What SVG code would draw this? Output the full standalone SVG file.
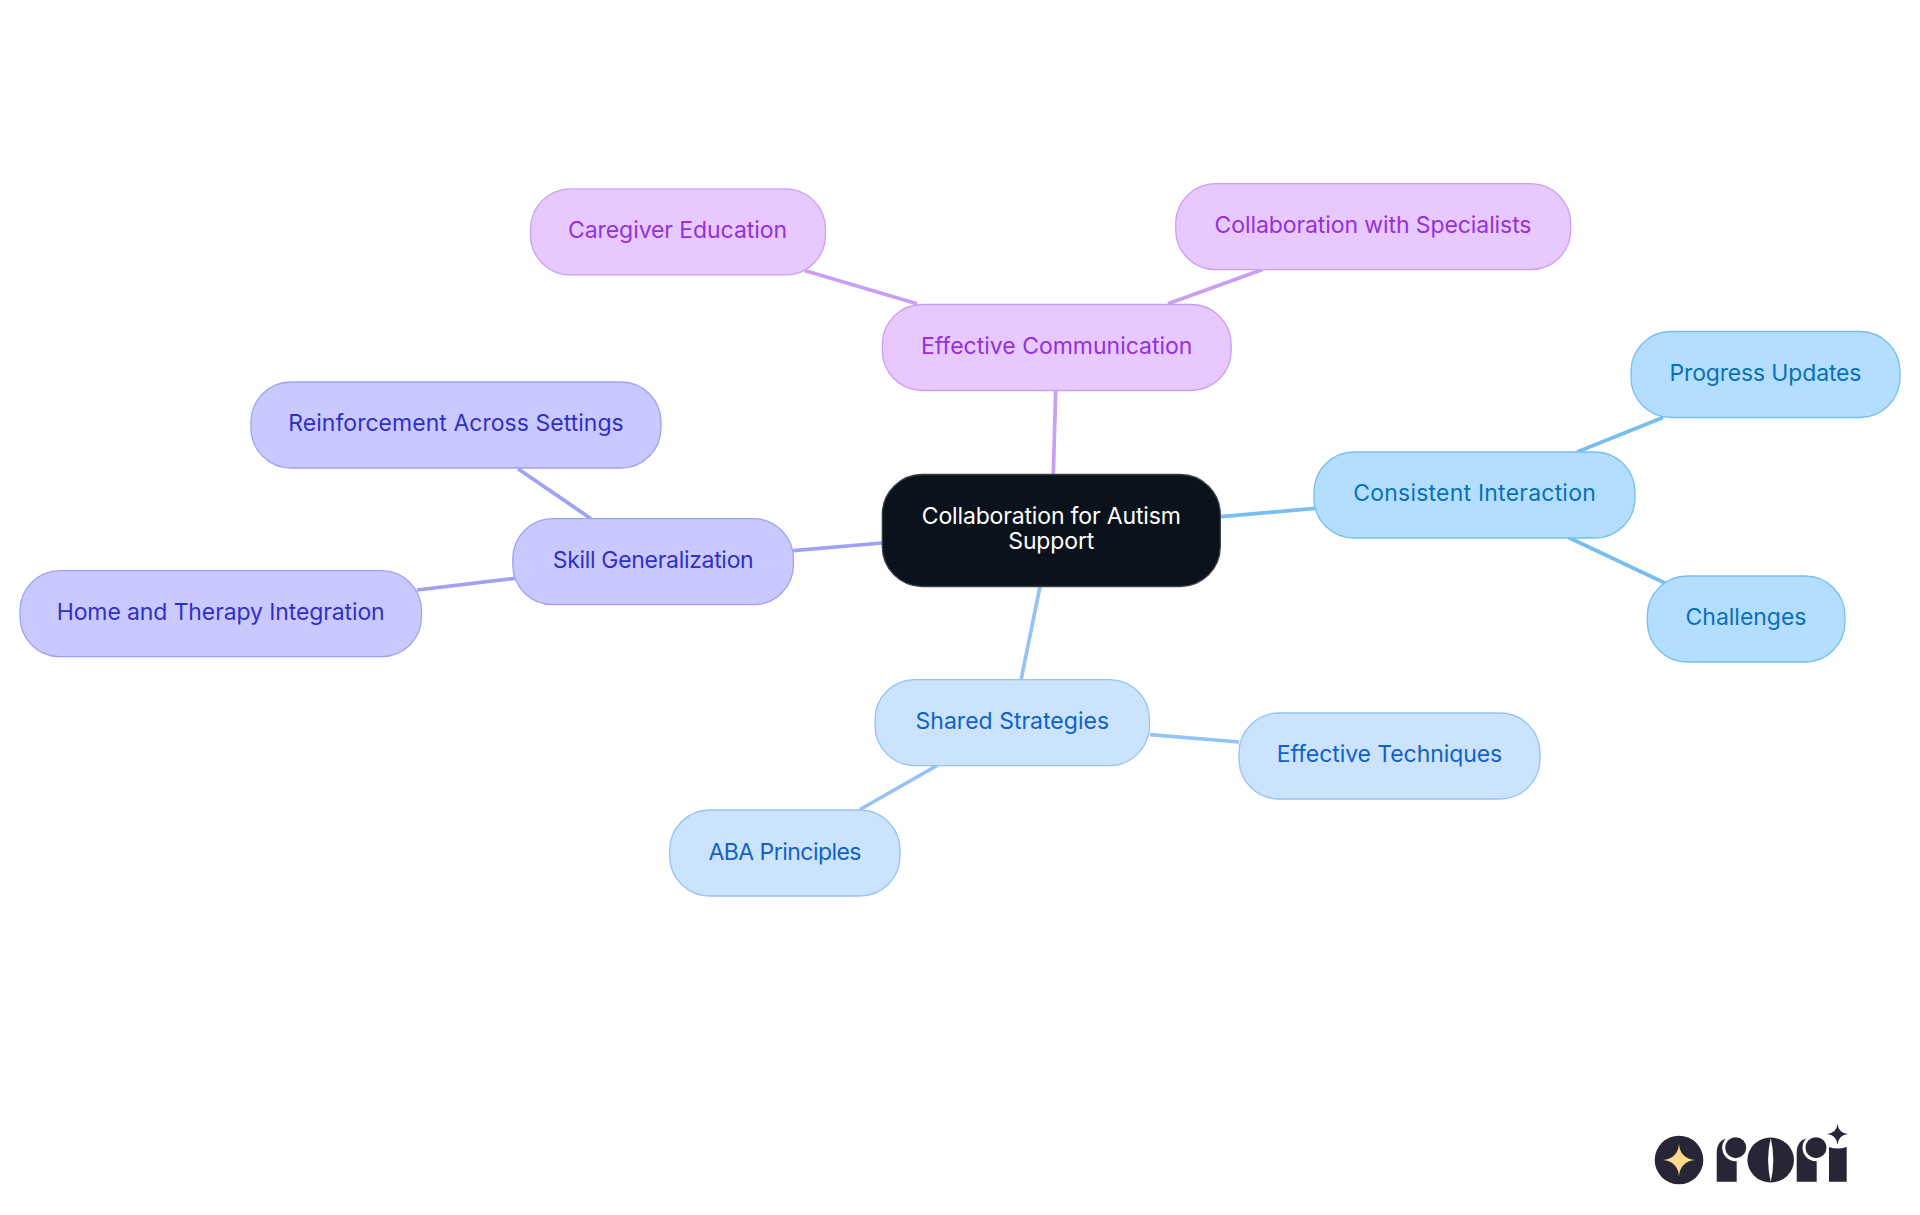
<svg xmlns="http://www.w3.org/2000/svg" width="1920" height="1215" viewBox="0 0 1920 1215">
<style>
text{font-family:Inter,"Liberation Sans",sans-serif;font-size:23px;font-weight:400;text-anchor:middle}
.n{stroke-width:1.3}
.l{fill:none;stroke-width:3.7}
.a{fill:#e7c9ff;stroke:#cb9ef5}.at{fill:#9530dc}.al{stroke:#cb9ef5}
.b{fill:#b3deff;stroke:#78bef0}.bt{fill:#0a70b8}.bl{stroke:#78bef0}
.c{fill:#cce3fd;stroke:#96c3f5}.ct{fill:#0f62c8}.cl{stroke:#96c3f5}
.d{fill:#c9c9ff;stroke:#a0a0f5}.dt{fill:#3030c8}.dl{stroke:#a0a0f5}
.k{fill:#262636}
</style>
<rect width="1920" height="1215" fill="#ffffff"/>
<g id="connectors">
<path class="l al" d="M1055.7 390.7L1053.3 474"/>
<path class="l al" d="M804.5 270.6L917 303.7"/>
<path class="l al" d="M1262.5 269.4L1168 303.7"/>
<path class="l bl" d="M1221 516.7L1315 508.3"/>
<path class="l bl" d="M1663 417.5L1577 452"/>
<path class="l bl" d="M1568.6 537.5L1667 584"/>
<path class="l cl" d="M1040 586.7L1021 680"/>
<path class="l cl" d="M1150 734.7L1239 742"/>
<path class="l cl" d="M938 765L860 809.5"/>
<path class="l dl" d="M882 543L793.4 550.7"/>
<path class="l dl" d="M518 468.7L591 518.7"/>
<path class="l dl" d="M417 590L515 578.3"/>
</g>
<g id="center"><rect x="882.3" y="474.5" width="338" height="112" rx="40" fill="#0b121b" stroke="#3a3f46" stroke-width="1.3"/><text x="1051.3" y="524.3" fill="#ffffff" textLength="259">Collaboration for Autism</text><text x="1051.3" y="549.3" fill="#ffffff" textLength="86">Support</text></g>
<g id="effective-communication"><rect class="n a" x="882.3" y="304.5" width="348.9" height="86" rx="40"/><text class="at" x="1056.7" y="353.7" textLength="271.5">Effective Communication</text></g>
<g id="caregiver-education"><rect class="n a" x="530.5" y="188.9" width="295" height="86" rx="40"/><text class="at" x="677.5" y="238.2" textLength="219">Caregiver Education</text></g>
<g id="collaboration-with-specialists"><rect class="n a" x="1175.7" y="183.7" width="395" height="86" rx="40"/><text class="at" x="1373" y="233" textLength="317">Collaboration with Specialists</text></g>
<g id="consistent-interaction"><rect class="n b" x="1314" y="452" width="321" height="86" rx="40"/><text class="bt" x="1474.5" y="500.8" textLength="242.5">Consistent Interaction</text></g>
<g id="progress-updates"><rect class="n b" x="1631" y="331.5" width="269" height="86" rx="40"/><text class="bt" x="1765.5" y="380.8" textLength="192">Progress Updates</text></g>
<g id="challenges"><rect class="n b" x="1647.3" y="576" width="197.7" height="86" rx="40"/><text class="bt" x="1746" y="624.8" textLength="121">Challenges</text></g>
<g id="shared-strategies"><rect class="n c" x="875" y="679.6" width="274.5" height="86" rx="40"/><text class="ct" x="1012.3" y="729" textLength="193.5">Shared Strategies</text></g>
<g id="effective-techniques"><rect class="n c" x="1239" y="713" width="301" height="86" rx="40"/><text class="ct" x="1389.5" y="762" textLength="225.5">Effective Techniques</text></g>
<g id="aba-principles"><rect class="n c" x="669.7" y="810" width="230.3" height="86" rx="40"/><text class="ct" x="785" y="859.5" textLength="153">ABA Principles</text></g>
<g id="skill-generalization"><rect class="n d" x="512.8" y="518.7" width="280.6" height="86" rx="40"/><text class="dt" x="653.2" y="568" textLength="201">Skill Generalization</text></g>
<g id="reinforcement-across-settings"><rect class="n d" x="251" y="382" width="410" height="86" rx="40"/><text class="dt" x="456" y="430.8" textLength="335.5">Reinforcement Across Settings</text></g>
<g id="home-and-therapy-integration"><rect class="n d" x="20" y="570.7" width="401.5" height="86" rx="40"/><text class="dt" x="220.7" y="620" textLength="328">Home and Therapy Integration</text></g>
<g id="logo">
<circle class="k" cx="1679" cy="1160" r="24.3"/>
<path fill="#ffd98a" d="M1679 1144Q1680 1158.5 1695.3 1160Q1680 1161.5 1679 1176.5Q1678 1161.5 1662.7 1160Q1678 1158.5 1679 1144Z"/>
<path class="k" d="M1716.7 1181.7V1153Q1716.7 1139 1730 1138H1750V1181.7H1736.7V1181.7Z"/>
<rect fill="#fff" x="1736.7" y="1130" width="20" height="52"/>
<circle fill="#fff" cx="1735.7" cy="1147.7" r="13.5"/>
<circle class="k" cx="1735.7" cy="1147.7" r="10.5"/>
<ellipse class="k" cx="1770.7" cy="1160" rx="23.3" ry="22.5"/>
<path fill="#fff" d="M1770.7 1138Q1765.5 1160 1770.7 1182Q1775.9 1160 1770.7 1138Z"/>
<path class="k" d="M1796.7 1181.7V1153Q1796.7 1139 1810 1138H1830V1181.7H1816.7V1181.7Z"/>
<rect fill="#fff" x="1816.7" y="1130" width="15" height="52"/>
<circle fill="#fff" cx="1816" cy="1147.7" r="13.5"/>
<circle class="k" cx="1816" cy="1147.7" r="10.5"/>
<path class="k" d="M1829 1181.7V1147Q1837 1150 1846.7 1147V1181.7Z"/>
<path class="k" d="M1837.5 1124Q1838.5 1133 1848 1134Q1838.5 1135 1837.5 1144.5Q1836.5 1135 1827 1134Q1836.5 1133 1837.5 1124Z"/>
</g>
</svg>
